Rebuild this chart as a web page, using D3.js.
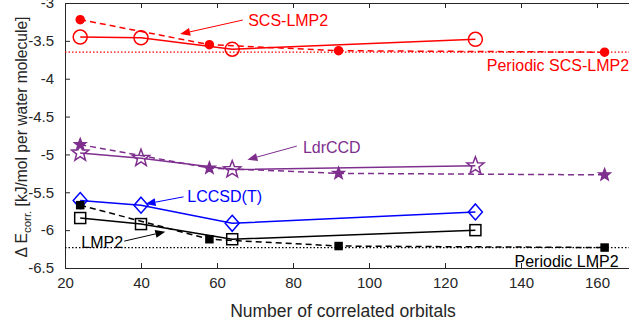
<!DOCTYPE html>
<html>
<head>
<meta charset="utf-8">
<script src="https://cdn.jsdelivr.net/npm/d3@7"></script>
<style>
  body { margin: 0; background: #fff; }
  text { font-family: "Liberation Sans", Arial, sans-serif; }
</style>
</head>
<body>
<svg id="chart" width="629" height="325"></svg>
<script>
// cluster sizes (open markers, solid lines) and fragment sizes (filled markers, dashed)
var orbitalsCluster = [24, 40, 64, 128];
var orbitalsFrag = [24, 58, 92, 162];

var scsLmp2 = [-3.45, -3.46, -3.61, -3.48];
var scsLmp2Frag = [-3.22, -3.55, -3.63, -3.65];
var ldrCCD = [-4.98, -5.05, -5.20, -5.15];
var ldrCCDFrag = [-4.87, -5.18, -5.25, -5.27];
var lccsdT = [-5.61, -5.67, -5.91, -5.76];
var lmp2 = [-5.84, -5.92, -6.12, -6.00];
var lmp2Frag = [-5.67, -6.12, -6.21, -6.23];

var periodicScsLmp2 = -3.65;
var periodicLmp2 = -6.23;

var xTicks = [20, 40, 60, 80, 100, 120, 140, 160];
var yTicks = [-3, -3.5, -4, -4.5, -5, -5.5, -6, -6.5];

var RED = '#ff0000', PURPLE = '#7e2f8e', BLUE = '#0000ff', BLACK = '#000000';

var svg = d3.select('#chart');
var x = d3.scaleLinear().domain([20, 170]).range([65, 635]);
var y = d3.scaleLinear().domain([-6.5, -3]).range([268, 3]);

var defs = svg.append('defs');
var clip = defs.append('clipPath').attr('id', 'plotclip');
clip.append('rect').attr('x', 65).attr('y', 3).attr('width', 570).attr('height', 265);

// axes
var axCol = '#262626';
var gx = svg.append('g').attr('transform', 'translate(0,268)')
    .call(d3.axisBottom(x).tickValues(xTicks).tickSizeInner(-5).tickSizeOuter(0).tickPadding(9));
var gxt = svg.append('g').attr('transform', 'translate(0,3)')
    .call(d3.axisTop(x).tickValues(xTicks).tickSizeInner(-5).tickSizeOuter(0).tickFormat(''));
var gy = svg.append('g').attr('transform', 'translate(65,0)')
    .call(d3.axisLeft(y).tickValues(yTicks).tickSizeInner(-5).tickSizeOuter(0).tickPadding(11)
        .tickFormat(function(d) { return d3.format('')(d).replace('\u2212', '-'); }));
var gyr = svg.append('g').attr('transform', 'translate(635,0)')
    .call(d3.axisRight(y).tickValues(yTicks).tickSizeInner(-5).tickSizeOuter(0).tickFormat(''));
[gx, gxt, gy, gyr].forEach(function(g) {
    g.selectAll('path, line').attr('stroke', axCol).attr('stroke-width', 1);
    g.selectAll('text').attr('fill', axCol).style('font-size', '15px')
        .style('font-family', '"Liberation Sans", Arial, sans-serif');
});

svg.append('text').attr('x', 343).attr('y', 317).attr('text-anchor', 'middle')
    .attr('fill', axCol).style('font-size', '17.5px').text('Number of correlated orbitals');

var yl = svg.append('text').attr('transform', 'translate(27,137) rotate(-90)')
    .attr('text-anchor', 'middle').attr('fill', axCol).style('font-size', '15.6px');
yl.append('tspan').text('\u0394 E');
yl.append('tspan').attr('dy', 4).style('font-size', '11.5px').text('corr.');
yl.append('tspan').attr('dy', -4).text(' [kJ/mol per water molecule]');

var plot = svg.append('g').attr('clip-path', 'url(#plotclip)');

// periodic reference lines
[[periodicScsLmp2, RED], [periodicLmp2, BLACK]].forEach(function(p) {
    plot.append('line').attr('x1', 65).attr('x2', 635)
        .attr('y1', y(p[0])).attr('y2', y(p[0]))
        .attr('stroke', p[1]).attr('stroke-width', 1.2).attr('stroke-dasharray', '1.5,2');
});

var line = d3.line().x(function(d) { return x(d[0]); }).y(function(d) { return y(d[1]); });
var zip = function(xs, ys) { return xs.map(function(v, i) { return [v, ys[i]]; }); };

var series = [
    {xs: orbitalsFrag, ys: scsLmp2Frag, col: RED, dash: '6,4', mark: 'fcircle'},
    {xs: orbitalsCluster, ys: scsLmp2, col: RED, dash: null, mark: 'circle'},
    {xs: orbitalsFrag, ys: ldrCCDFrag, col: PURPLE, dash: '6,4', mark: 'fstar'},
    {xs: orbitalsCluster, ys: ldrCCD, col: PURPLE, dash: null, mark: 'star'},
    {xs: orbitalsCluster, ys: lccsdT, col: BLUE, dash: null, mark: 'diamond'},
    {xs: orbitalsFrag, ys: lmp2Frag, col: BLACK, dash: '6,4', mark: 'fsquare'},
    {xs: orbitalsCluster, ys: lmp2, col: BLACK, dash: null, mark: 'square'}
];

function starPath(R) {
    var r = R * 0.42, pts = [];
    for (var i = 0; i < 10; i++) {
        var a = -Math.PI / 2 + i * Math.PI / 5, rr = i % 2 ? r : R;
        pts.push([rr * Math.cos(a), rr * Math.sin(a)]);
    }
    return 'M' + pts.join('L') + 'Z';
}
var shapes = {
    circle: function(g) { return g.append('circle').attr('r', 7).attr('fill', 'none'); },
    fcircle: function(g) { return g.append('circle').attr('r', 4).attr('fill', 'currentColor'); },
    star: function(g) { return g.append('path').attr('d', starPath(9)).attr('fill', 'none'); },
    fstar: function(g) { return g.append('path').attr('d', starPath(6)).attr('fill', 'currentColor'); },
    diamond: function(g) { return g.append('path').attr('d', 'M0,-8L7,0L0,8L-7,0Z').attr('fill', 'none'); },
    square: function(g) { return g.append('rect').attr('x', -5.5).attr('y', -5.5).attr('width', 11).attr('height', 11).attr('fill', 'none'); },
    fsquare: function(g) { return g.append('rect').attr('x', -3.5).attr('y', -3.5).attr('width', 7).attr('height', 7).attr('fill', 'currentColor'); }
};

series.forEach(function(s) {
    var pts = zip(s.xs, s.ys);
    var g = plot.append('g').style('color', s.col);
    g.append('path').attr('d', line(pts)).attr('fill', 'none').attr('stroke', s.col)
        .attr('stroke-width', 1.5).attr('stroke-dasharray', s.dash);
    g.selectAll('g.m').data(pts).enter().append('g').attr('class', 'm')
        .attr('transform', function(d) { return 'translate(' + x(d[0]) + ',' + y(d[1]) + ')'; })
        .each(function() {
            shapes[s.mark](d3.select(this)).attr('stroke', s.col).attr('stroke-width', 1.5);
        });
});

// annotations (data coordinates)
var labels = [
    {text: 'SCS-LMP2', tx: 68.2, ty: -3.225, anchor: 'start', col: RED, from: [66.8, -3.225], to: [50.3, -3.41]},
    {text: 'LdrCCD', tx: 82.6, ty: -4.9, anchor: 'start', col: PURPLE, from: [81.0, -4.89], to: [68.0, -5.07]},
    {text: 'LCCSD(T)', tx: 52.2, ty: -5.55, anchor: 'start', col: BLUE, from: [51.2, -5.56], to: [41.2, -5.655]},
    {text: 'LMP2', tx: 35.3, ty: -6.16, anchor: 'end', col: BLACK, from: [35.6, -6.145], to: [46.4, -6.02]},
    {text: 'Periodic SCS-LMP2', tx: 131.0, ty: -3.82, anchor: 'start', col: RED},
    {text: 'Periodic LMP2', tx: 138.3, ty: -6.41, anchor: 'start', col: BLACK}
];

labels.forEach(function(l) {
    svg.append('text').attr('x', x(l.tx)).attr('y', y(l.ty)).attr('dy', '0.36em')
        .attr('text-anchor', l.anchor).attr('fill', l.col).style('font-size', '16px').text(l.text);
    if (!l.from) return;
    var x0 = x(l.from[0]), y0 = y(l.from[1]), x1 = x(l.to[0]), y1 = y(l.to[1]);
    var ang = Math.atan2(y1 - y0, x1 - x0), hl = 10, hw = 4;
    var bx = x1 - hl * Math.cos(ang), by = y1 - hl * Math.sin(ang);
    svg.append('line').attr('x1', x0).attr('y1', y0).attr('x2', bx).attr('y2', by)
        .attr('stroke', l.col).attr('stroke-width', 1);
    var px = -Math.sin(ang) * hw, py = Math.cos(ang) * hw;
    svg.append('path')
        .attr('d', 'M' + x1 + ',' + y1 + 'L' + (bx + px) + ',' + (by + py) +
            'L' + (bx - px) + ',' + (by - py) + 'Z')
        .attr('fill', l.col);
});
</script>
</body>
</html>
